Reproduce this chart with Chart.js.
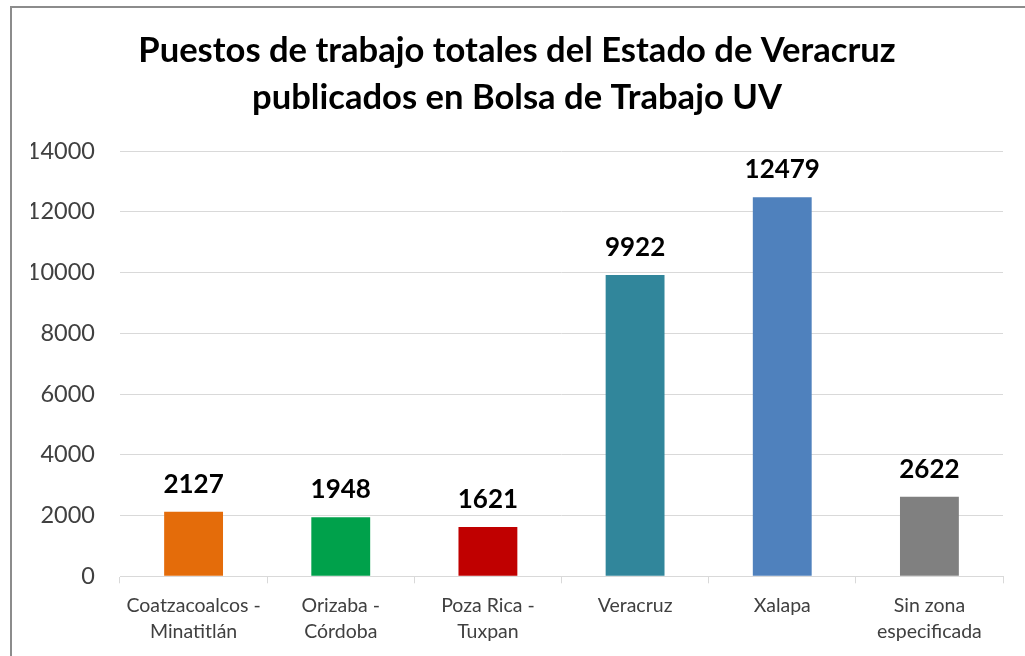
<!DOCTYPE html>
<html lang="es">

<head>
    <meta charset="UTF-8">
    <title>Puestos de trabajo totales - Veracruz</title>
    <script src="https://cdn.jsdelivr.net/npm/chart.js"></script>
    <style>
        body {
            margin: 0;
            width: 1025px;
            height: 656px;
            overflow: hidden;
            background: #fff;
            position: relative;
        }

        #frame {
            position: absolute;
            left: 10px;
            top: 6px;
            width: 1100px;
            height: 700px;
            border: 2px solid #8c8c8c;
        }

        #wrap {
            position: absolute;
            left: 0;
            top: 0;
            width: 1059px;
            height: 656px;
        }
    </style>
</head>

<body>
    <div id="frame"></div>
    <div id="wrap"><canvas id="puestosChart"></canvas></div>

    <script>
        // data
        const zonas = [
            ["Coatzacoalcos -", "Minatitlán"],
            ["Orizaba -", "Córdoba"],
            ["Poza Rica -", "Tuxpan"],
            "Veracruz",
            "Xalapa",
            ["Sin zona", "especificada"]
        ];
        const puestos = [2127, 1948, 1621, 9922, 12479, 2622];
        const colores = ["#e46c0a", "#00a14b", "#c00000", "#31869b", "#4f81bd", "#808080"];
        const yTicks = [0, 2000, 4000, 6000, 8000, 10000, 12000, 14000];

        // numbers on top of each bar
        const valueLabels = {
            id: 'valueLabels',
            afterDatasetsDraw(chart) {
                const ctx = chart.ctx;
                const meta = chart.getDatasetMeta(0);
                ctx.save();
                ctx.font = 'bold 26px Lato';
                ctx.fillStyle = '#000';
                ctx.textAlign = 'center';
                ctx.textBaseline = 'alphabetic';
                meta.data.forEach((bar, i) => {
                    ctx.fillText(puestos[i], bar.x, bar.y - 19);
                });
                ctx.restore();
            }
        };

        new Chart(document.getElementById('puestosChart'), {
            type: 'bar',
            data: {
                labels: zonas,
                datasets: [{
                    data: puestos,
                    backgroundColor: colores,
                    barPercentage: 0.4,
                    categoryPercentage: 1
                }]
            },
            plugins: [valueLabels],
            options: {
                responsive: true,
                maintainAspectRatio: false,
                animation: false,
                layout: { padding: { left: 31, right: 56, top: 27, bottom: 2 } },
                plugins: {
                    legend: { display: false },
                    tooltip: { enabled: false },
                    title: {
                        display: true,
                        text: ['Puestos de trabajo totales del Estado de Veracruz', 'publicados en Bolsa de Trabajo UV'],
                        font: { family: 'Lato', size: 34.6, weight: 'bold', lineHeight: 1.36 },
                        color: '#000',
                        padding: { top: 0, bottom: 30 }
                    }
                },
                scales: {
                    x: {
                        grid: {
                            offset: true,
                            drawOnChartArea: false,
                            tickLength: 7,
                            color: '#d9d9d9'
                        },
                        border: { color: '#d9d9d9' },
                        ticks: {
                            font: { family: 'Lato', size: 19.5, lineHeight: 1.3 },
                            color: '#404040',
                            maxRotation: 0,
                            autoSkip: false,
                            padding: 10
                        }
                    },
                    y: {
                        min: 0,
                        max: 14000,
                        afterBuildTicks(axis) {
                            axis.ticks = yTicks.map(v => ({ value: v }));
                        },
                        afterFit(axis) {
                            axis.width = 89;
                        },
                        grid: { color: '#d9d9d9', drawTicks: false },
                        border: { display: false },
                        ticks: {
                            font: { family: 'Lato', size: 23.5 },
                            color: '#404040',
                            padding: 25,
                            callback: v => String(v)
                        }
                    }
                }
            }
        });
    </script>
</body>

</html>
